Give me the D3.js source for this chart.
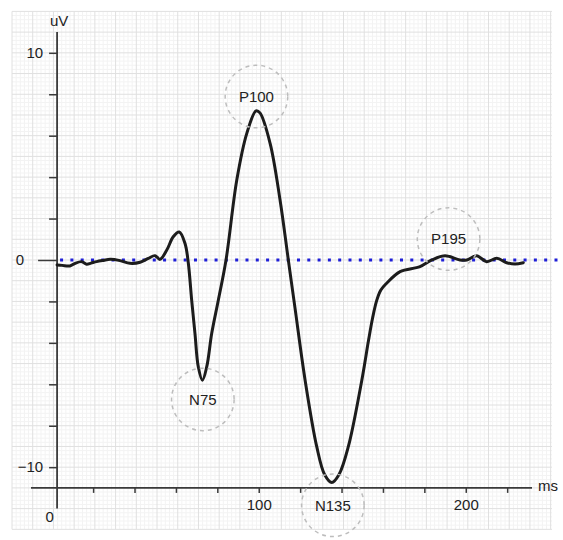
<!DOCTYPE html>
<html><head><meta charset="utf-8">
<script src="https://cdnjs.cloudflare.com/ajax/libs/d3/7.8.5/d3.min.js"></script>
<style>
html,body{margin:0;padding:0;background:#fff;}
svg{display:block;font-family:"Liberation Sans",Arial,Helvetica,sans-serif;}
</style></head>
<body>
<svg id="chart" width="563" height="540"></svg>
<script>
// Waveform samples (time in ms, amplitude in uV)
const timeMs = [2.6, 5, 8.8, 11.3, 14.5, 16.9, 19, 21.7, 25, 28.2, 33, 37.8, 42.7, 46.7, 49.9, 52.3,
  55.6, 58.7, 61.6, 64.4, 66.0, 67.6, 69.2, 70.8, 72.8, 74.9, 77.3, 80.5, 84.2, 89.4, 94.2,
  98.7, 100.6, 105.5, 110.3, 114.3, 117.5, 122.4, 128, 131.8, 135.3, 138.8, 143.3, 149.8, 153, 155, 157, 159, 161.8, 168.3,
  177.9, 183.6, 190, 197.2, 200.5, 205.3, 210.1, 215, 219.8, 223.8, 227.8];
const amplitude = [-0.24, -0.26, -0.29, -0.16, -0.08, -0.2, -0.15, -0.08, -0.02, 0.03, -0.03, -0.16, -0.11, 0.08, 0.21, 0.03,
  0.48, 1.12, 1.35, 0.8, -0.16, -1.93, -3.54, -5.15, -5.8, -5.15, -3.54, -1.93, 0, 3.86, 6.1,
  7.2, 7.1, 5.63, 2.9, 0, -2.3, -5.8, -9.0, -10.35, -10.74, -10.35, -9.0, -5.8, -3.9, -2.8, -1.95, -1.45, -1.12, -0.56,
  -0.32, 0, 0.2, 0, 0.0, 0.2, -0.08, 0.08, -0.13, -0.19, -0.13];

// Peak annotations
const peakLabels = ["N75", "P100", "N135", "P195"];
const peakTimes = [73.0, 98.9, 135.8, 191.7];
const peakAmps = [-6.73, 7.89, -11.84, 1.01];

// Axis ticks
const yTicks = [-10, -8, -6, -4, -2, 0, 2, 4, 6, 8, 10];
const yTickLabels = {"10": "10", "0": "0", "-10": "\u221210"};
const xTicks = [20, 40, 60, 80, 100, 120, 140, 160, 180, 200, 220];
const xTickLabels = {"100": "100", "200": "200"};

const svg = d3.select("#chart");
const x = d3.scaleLinear().domain([-10, 232]).range([31, 532]);
const y = d3.scaleLinear().domain([-12, 11]).range([508.6, 32.1]);
const unitPx = y(0) - y(1);

// graph-paper background
const gx0 = 12, gx1 = 552, gy0 = y(12), gy1 = y(-13);
const grid = svg.append("g");
const minor = grid.append("g").attr("stroke", "#f3f3f3").attr("stroke-width", 1);
const major = grid.append("g").attr("stroke", "#e0e0e0").attr("stroke-width", 1);
for (let k = 0; gx0 + k * unitPx <= gx1 + 0.5; k++) {
  const px = gx0 + k * unitPx;
  major.append("line").attr("x1", px).attr("x2", px).attr("y1", gy0).attr("y2", gy1);
  if (gx0 + (k + 1) * unitPx <= gx1 + 0.5) {
    for (let m = 1; m < 5; m++) {
      const mx = px + m * unitPx / 5;
      minor.append("line").attr("x1", mx).attr("x2", mx).attr("y1", gy0).attr("y2", gy1);
    }
  }
}
for (let v = 12; v >= -13; v--) {
  const py = y(v);
  major.append("line").attr("x1", gx0).attr("x2", gx1).attr("y1", py).attr("y2", py);
  if (v > -13) {
    for (let m = 1; m < 5; m++) {
      const my = py + m * unitPx / 5;
      minor.append("line").attr("x1", gx0).attr("x2", gx1).attr("y1", my).attr("y2", my);
    }
  }
}

const axisColor = "#3a3a3a";
const yAxisX = x(2.6);

// baseline at 0 (blue dotted)
svg.append("line")
  .attr("x1", yAxisX + 3).attr("x2", 560)
  .attr("y1", y(0)).attr("y2", y(0))
  .attr("stroke", "#1f1fd6").attr("stroke-width", 3)
  .attr("stroke-dasharray", "3 7.3");

// y axis
const yAxis = d3.axisLeft(y).tickValues(yTicks).tickSize(8)
  .tickFormat(d => yTickLabels[String(d)] || "");
const gy = svg.append("g").attr("transform", `translate(${yAxisX},0)`).call(yAxis);
gy.select(".domain").remove();
gy.selectAll(".tick line").attr("stroke", axisColor).attr("stroke-width", 1.5)
  .attr("x2", d => d === 0 ? -19 : -8);
gy.selectAll(".tick text").attr("font-size", 15).attr("fill", "#222")
  .attr("font-family", "Liberation Sans, Arial, sans-serif")
  .attr("x", d => d === 0 ? -33 : -14);
svg.append("line").attr("x1", yAxisX).attr("x2", yAxisX)
  .attr("y1", y(11)).attr("y2", y(-12))
  .attr("stroke", axisColor).attr("stroke-width", 1.8);

// x axis
const xAxis = d3.axisBottom(x).tickValues(xTicks).tickSize(5)
  .tickFormat(d => xTickLabels[String(d)] || "");
const gxA = svg.append("g").attr("transform", `translate(0,${y(-11)})`).call(xAxis);
gxA.select(".domain").remove();
gxA.selectAll(".tick line").attr("stroke", axisColor).attr("stroke-width", 1.5);
gxA.selectAll(".tick text").attr("font-size", 15).attr("fill", "#222")
  .attr("font-family", "Liberation Sans, Arial, sans-serif")
  .attr("y", 11);
svg.append("line").attr("x1", x(-10)).attr("x2", x(232))
  .attr("y1", y(-11)).attr("y2", y(-11))
  .attr("stroke", axisColor).attr("stroke-width", 1.8);

// origin label and unit labels
svg.append("text").attr("x", x(0) - 2).attr("y", 522).attr("text-anchor", "middle")
  .attr("font-size", 15).attr("fill", "#222").text("0");
svg.append("text").attr("x", yAxisX + 2).attr("y", 26).attr("text-anchor", "middle")
  .attr("font-size", 15).attr("fill", "#222").text("uV");
svg.append("text").attr("x", 538).attr("y", 491).attr("text-anchor", "start")
  .attr("font-size", 15).attr("fill", "#222").text("ms");

// waveform
const pts = timeMs.map((t, i) => [t, amplitude[i]]);
const line = d3.line().x(d => x(d[0])).y(d => y(d[1])).curve(d3.curveCatmullRom.alpha(0.5));
svg.append("path").datum(pts).attr("d", line)
  .attr("fill", "none").attr("stroke", "#1c1c1c").attr("stroke-width", 3)
  .attr("stroke-linejoin", "round").attr("stroke-linecap", "round");

// peak annotations
const r = 1.51 * unitPx;
const ann = svg.append("g");
peakLabels.forEach((lab, i) => {
  ann.append("circle").attr("cx", x(peakTimes[i])).attr("cy", y(peakAmps[i])).attr("r", r)
    .attr("fill", "none").attr("stroke", "#bdbdbd").attr("stroke-width", 1.5)
    .attr("stroke-dasharray", "4 4");
  ann.append("text").attr("x", x(peakTimes[i])).attr("y", y(peakAmps[i]))
    .attr("dy", "0.36em").attr("text-anchor", "middle")
    .attr("font-size", 15).attr("fill", "#222").text(lab);
});
</script>
</body></html>
